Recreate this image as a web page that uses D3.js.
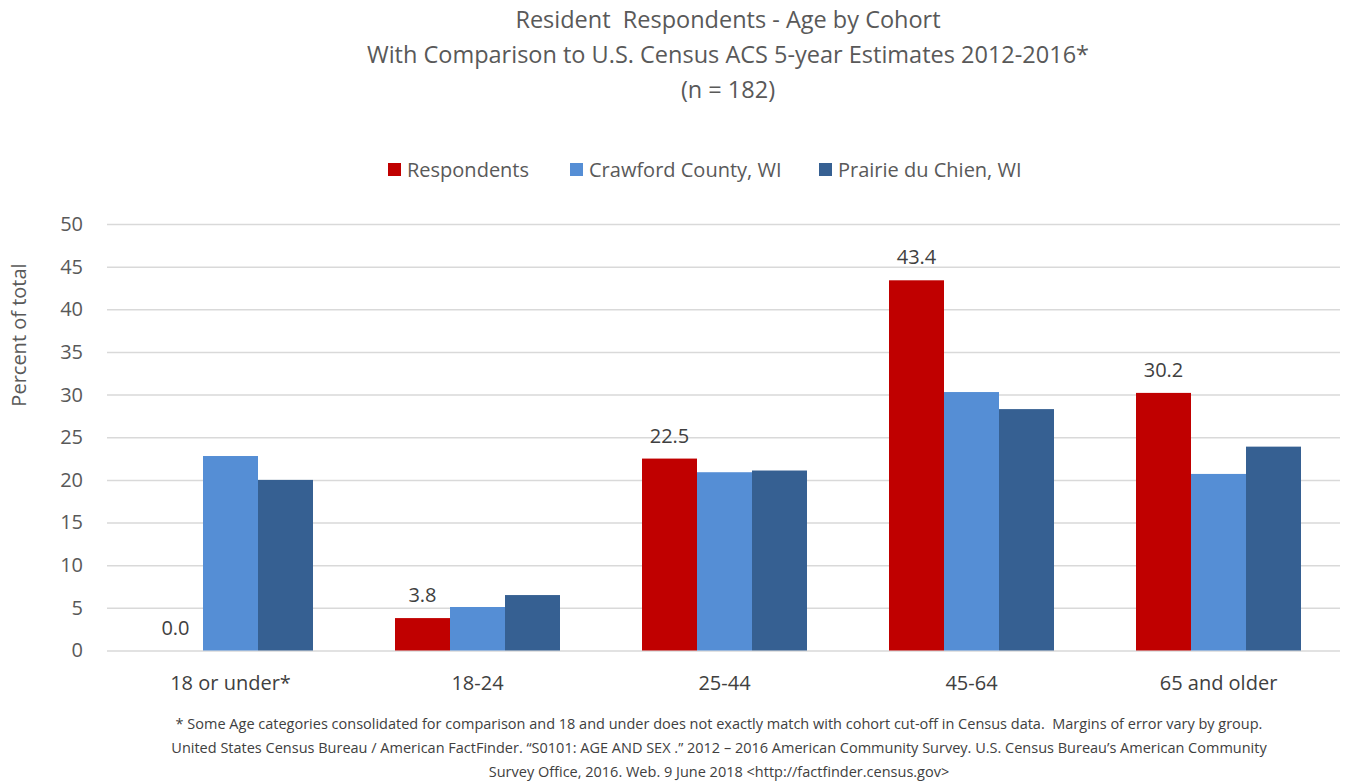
<!DOCTYPE html>
<html>
<head>
<meta charset="utf-8">
<script src="https://cdn.jsdelivr.net/npm/d3@7"></script>
<style>
  html, body { margin: 0; padding: 0; background: #fff; }
  svg { display: block; font-family: "Open Sans", "Liberation Sans", sans-serif; }
</style>
</head>
<body>
<svg id="chart" width="1347" height="784"></svg>
<script>
// Age cohorts and the three series compared
const categories = ["18 or under*", "18-24", "25-44", "45-64", "65 and older"];
const seriesNames = ["Respondents", "Crawford County, WI", "Prairie du Chien, WI"];
const respondents = [0.0, 3.8, 22.5, 43.4, 30.2];
const crawford = [22.8, 5.1, 20.9, 30.3, 20.7];
const prairie = [20.0, 6.5, 21.1, 28.3, 23.9];
const yTicks = [0, 5, 10, 15, 20, 25, 30, 35, 40, 45, 50];
const titleLines = [
  "Resident  Respondents - Age by Cohort",
  "With Comparison to U.S. Census ACS 5-year Estimates 2012-2016*",
  "(n = 182)"
];
const footnoteLines = [
  "* Some Age categories consolidated for comparison and 18 and under does not exactly match with cohort cut-off in Census data.  Margins of error vary by group.",
  "United States Census Bureau / American FactFinder. \u201cS0101: AGE AND SEX .\u201d 2012 \u2013 2016 American Community Survey. U.S. Census Bureau\u2019s American Community",
  "Survey Office, 2016. Web. 9 June 2018 <http://factfinder.census.gov>"
];
const colors = ["#C00000", "#558ED5", "#366092"];

const svg = d3.select("#chart");
const W = 1347;
const margin = { left: 107, right: 5, top: 224 };
const plotW = W - margin.left - margin.right;
const plotBottom = 650.5;

const x0 = d3.scaleBand().domain(categories).range([margin.left, margin.left + plotW]);
const x1 = d3.scaleBand().domain(seriesNames).range([0, x0.bandwidth() * 0.668]);
const y = d3.scaleLinear().domain([0, 50]).range([plotBottom, margin.top]);

const seriesValues = [respondents, crawford, prairie];
const rows = categories.map((c, i) => ({
  cat: c,
  vals: seriesNames.map((s, k) => ({ series: s, k, value: seriesValues[k][i] }))
}));

// Gridlines
const grid = d3.axisLeft(y).tickValues(yTicks).tickSize(-(plotW - 2)).tickFormat("");
svg.append("g")
  .attr("transform", `translate(${margin.left},0)`)
  .call(grid)
  .call(g => g.select(".domain").remove())
  .call(g => g.selectAll("line").attr("stroke", "#d9d9d9").attr("stroke-width", 1.5));

// Y tick labels
const yAxis = d3.axisLeft(y).tickValues(yTicks).tickSize(0).tickPadding(24);
svg.append("g")
  .attr("transform", `translate(${margin.left},0)`)
  .call(yAxis)
  .call(g => g.select(".domain").remove())
  .call(g => g.selectAll("text").attr("fill", "#595959").style("font-size", "20px").attr("font-family", "Open Sans, sans-serif"));

// Y axis title
svg.append("text")
  .attr("transform", "translate(26,335) rotate(-90)")
  .attr("text-anchor", "middle")
  .attr("fill", "#595959")
  .style("font-size", "20px")
  .text("Percent of total");

// Bars
const groups = svg.append("g").selectAll("g")
  .data(rows).join("g")
  .attr("transform", d => `translate(${x0(d.cat) + (x0.bandwidth() - x1.range()[1]) / 2},0)`);

groups.selectAll("rect")
  .data(d => d.vals).join("rect")
  .attr("x", d => x1(d.series))
  .attr("width", x1.bandwidth())
  .attr("y", d => y(d.value))
  .attr("height", d => plotBottom - y(d.value))
  .attr("fill", d => colors[d.k]);

// Value labels on respondent bars
groups.selectAll("text.val")
  .data(d => d.vals.filter(v => v.k === 0)).join("text")
  .attr("class", "val")
  .attr("x", d => x1(d.series) + x1.bandwidth() / 2)
  .attr("y", d => y(d.value) - 16)
  .attr("text-anchor", "middle")
  .attr("fill", "#404040")
  .style("font-size", "20px")
  .text(d => d.value.toFixed(1));

// X axis labels
const xAxis = d3.axisBottom(x0).tickSize(0).tickPadding(25);
svg.append("g")
  .attr("transform", `translate(0,${plotBottom})`)
  .call(xAxis)
  .call(g => g.select(".domain").remove())
  .call(g => g.selectAll("text").attr("fill", "#404040").style("font-size", "20px").attr("font-family", "Open Sans, sans-serif"));

// Title
svg.append("g").selectAll("text")
  .data(titleLines).join("text")
  .attr("x", 728)
  .attr("y", (d, i) => 28 + i * 35)
  .attr("text-anchor", "middle")
  .attr("fill", "#595959")
  .style("font-size", "23.5px")
  .style("white-space", "pre")
  .text(d => d);

// Legend
const legendX = [388, 570, 819];
const legend = svg.append("g").selectAll("g")
  .data(seriesNames).join("g")
  .attr("transform", (d, i) => `translate(${legendX[i]},163)`);
legend.append("rect").attr("width", 13).attr("height", 13).attr("fill", (d, i) => colors[i]);
legend.append("text")
  .attr("x", 19).attr("y", 14)
  .attr("fill", "#595959")
  .style("font-size", "20px")
  .text(d => d);

// Footnote
svg.append("g").selectAll("text")
  .data(footnoteLines).join("text")
  .attr("x", 719)
  .attr("y", (d, i) => 729 + i * 24)
  .attr("text-anchor", "middle")
  .attr("fill", "#404040")
  .style("font-size", "14.5px")
  .style("white-space", "pre")
  .text(d => d);
</script>
</body>
</html>
